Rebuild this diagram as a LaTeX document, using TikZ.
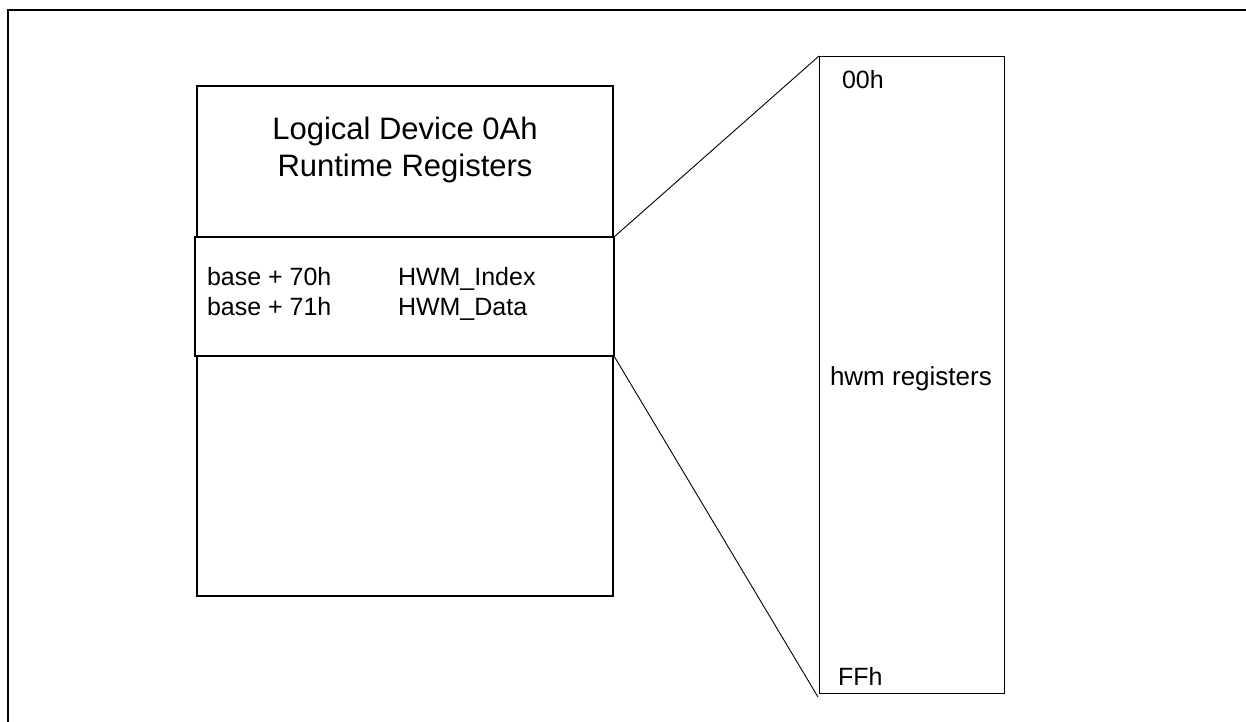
\documentclass[tikz,border=0pt]{standalone}
\usepackage{fontspec}
\setmainfont{Liberation Sans}
\begin{document}
\begin{tikzpicture}[x=1pt,y=-1pt,
  box/.style={draw=black, fill=white, inner sep=0pt, outer sep=0pt, anchor=north west},
  lbl/.style={inner sep=0pt, outer sep=0pt, anchor=base west, font=\fontsize{25}{30}\selectfont},
  ttl/.style={inner sep=0pt, outer sep=0pt, anchor=base, font=\fontsize{31}{37}\selectfont},
  conn/.style={draw=black, line width=0.9pt}]
\useasboundingbox (0,0) rectangle (1246,721);
% outer frame (only top and left edges fall inside the picture)
\draw[line width=2.2pt] (8,730) -- (8,10) -- (1255,10);
% logical device box
\node[box, line width=1.5pt, minimum width=416, minimum height=510] (ld) at (197,86) {};
\node[ttl] (t1) at (405,139) {Logical Device 0Ah};
\node[ttl] (t2) at (405,176) {Runtime Registers};
% register window
\node[box, line width=1.8pt, minimum width=419, minimum height=119] (win) at (195,237) {};
\node[lbl] (b70) at (207,285) {base + 70h};
\node[lbl] (b71) at (207,315) {base + 71h};
\node[lbl] (hi) at (398,285) {HWM\_Index};
\node[lbl] (hd) at (398,315) {HWM\_Data};
% hwm register space
\node[box, line width=1pt, minimum width=185, minimum height=637] (hwm) at (819,56) {};
\node[lbl] (r00) at (842,88) {00h};
\node[lbl, font=\fontsize{26}{31}\selectfont] (rmid) at (830,385) {hwm registers};
\node[lbl] (rff) at (838,685) {FFh};
\coordinate (lowend) at (818,697);
% connectors
\draw[conn] (win.north east) -- (hwm.north west);
\draw[conn] (win.south east) -- (lowend);
\end{tikzpicture}
\end{document}
